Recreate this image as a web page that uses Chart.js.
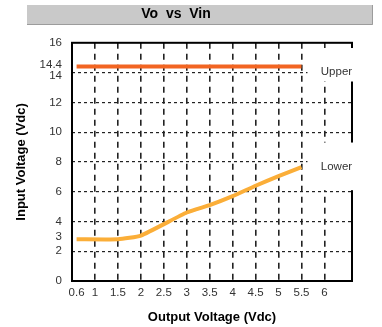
<!DOCTYPE html>
<html>
<head>
<meta charset="utf-8">
<title>Vo vs Vin</title>
<script src="https://cdn.jsdelivr.net/npm/chart.js@4"></script>
<style>
  html, body { margin: 0; padding: 0; background: #fff; }
  #wrap { width: 382px; height: 327px; }
</style>
</head>
<body>
<div id="wrap"><canvas id="vinChart"></canvas></div>
<script>
// input range limits against output voltage
const seriesNames = ['Upper', 'Lower'];
const upperVo = [0.6, 5.5];
const upperVin = [14.4, 14.4];
const lowerVo = [0.6, 1.5, 2.0, 3.0, 3.5, 4.0, 4.5, 5.0, 5.5];
const lowerVin = [2.8, 2.8, 3.05, 4.6, 5.1, 5.7, 6.4, 7.05, 7.65];

const xTicks = [0.6, 1, 1.5, 2, 2.5, 3, 3.5, 4, 4.5, 5, 5.5, 6];
const yTicks = [0, 2, 3, 4, 6, 8, 10, 12, 14, 14.4, 16];
const xGrid = [1, 1.5, 2, 2.5, 3, 3.5, 4, 4.5, 5, 5.5, 6];
const yGrid = [2, 4, 6, 8, 10, 12, 14];

const toPoints = (xs, ys) => xs.map((x, i) => ({ x: x, y: ys[i] }));

const narrowBold = { family: '"Liberation Sans Narrow", "Liberation Sans", Arial, sans-serif', size: 13, weight: 'bold' };
const tickFont = { family: '"Liberation Sans", Arial, sans-serif', size: 11.5 };
const tickFontCss = '11.5px "Liberation Sans", Arial, sans-serif';

// grey header bar behind the title
const titleBar = {
  id: 'titleBar',
  beforeDraw(chart) {
    const c = chart.ctx;
    c.save();
    c.fillStyle = '#c9c9c9';
    c.fillRect(27, 5, 346, 20);
    c.strokeStyle = '#9c9c9c';
    c.lineWidth = 1;
    c.beginPath();
    c.moveTo(372.5, 5); c.lineTo(372.5, 24.5); c.lineTo(27, 24.5);
    c.stroke();
    c.restore();
  }
};

// plot frame plus the series names on the right
const frameAndNames = {
  id: 'frameAndNames',
  afterDatasetsDraw(chart) {
    const c = chart.ctx;
    const a = chart.chartArea;
    const xs = chart.scales.x, ys = chart.scales.y;
    c.save();
    c.strokeStyle = '#000';
    c.lineWidth = 2;
    c.strokeRect(a.left, a.top, a.right - a.left, a.bottom - a.top);

    const boxLeft = xs.getPixelForValue(5.63);
    const spans = [[15.65, 13.4], [9.3, 6.1]];
    const labelAt = [14.05, 7.7];
    seriesNames.forEach((name, i) => {
      const top = ys.getPixelForValue(spans[i][0]);
      const bottom = ys.getPixelForValue(spans[i][1]);
      c.fillStyle = '#fff';
      c.fillRect(boxLeft, top, a.right + 3 - boxLeft, bottom - top);
      c.fillStyle = '#333';
      c.font = tickFontCss;
      c.textBaseline = 'middle';
      c.textAlign = 'left';
      c.fillText(name, xs.getPixelForValue(5.92), ys.getPixelForValue(labelAt[i]));
    });

    // y tick labels, the crowded pair near the top pushed apart
    c.fillStyle = '#333';
    c.font = tickFontCss;
    c.textAlign = 'right';
    c.textBaseline = 'middle';
    const nudge = { 14.4: -1.5, 14: 3.5 };
    ys.ticks.forEach(t => {
      c.fillText(String(t.value), a.left - 10, ys.getPixelForValue(t.value) + (nudge[t.value] || 0));
    });
    c.restore();
  }
};

new Chart(document.getElementById('vinChart'), {
  type: 'line',
  data: {
    datasets: [
      {
        label: seriesNames[0],
        data: toPoints(upperVo, upperVin),
        borderColor: '#f26522',
        borderWidth: 4,
        pointRadius: 0,
        borderCapStyle: 'butt'
      },
      {
        label: seriesNames[1],
        data: toPoints(lowerVo, lowerVin),
        borderColor: '#fbae38',
        borderWidth: 4,
        pointRadius: 0,
        tension: 0.15,
        borderJoinStyle: 'round'
      }
    ]
  },
  options: {
    responsive: true,
    maintainAspectRatio: false,
    animation: false,
    layout: { padding: { left: 0, right: 30, top: 0, bottom: 0 } },
    plugins: {
      legend: { display: false },
      tooltip: { enabled: false },
      title: {
        display: true,
        text: 'Vo  vs  Vin',
        color: '#000',
        font: { family: '"Liberation Sans", Arial, sans-serif', size: 14, weight: 'bold' },
        padding: { top: 6, bottom: 20 }
      }
    },
    scales: {
      x: {
        type: 'linear',
        min: 0.5,
        max: 6.6,
        afterBuildTicks: s => { s.ticks = xTicks.map(v => ({ value: v })); },
        afterFit: s => { s.height = 46; },
        border: { display: false, dash: [6, 5] },
        grid: {
          drawTicks: false,
          color: ctx => (ctx.tick && xGrid.includes(ctx.tick.value)) ? '#222' : 'rgba(0,0,0,0)',
          lineWidth: 1.6
        },
        ticks: {
          padding: 5,
          color: '#333',
          font: tickFont,
          autoSkip: false,
          maxRotation: 0,
          callback: v => String(v)
        },
        title: {
          display: true,
          text: 'Output Voltage (Vdc)',
          color: '#000',
          font: narrowBold,
          padding: { top: 2, bottom: 2 }
        }
      },
      y: {
        type: 'linear',
        min: 0,
        max: 16,
        afterBuildTicks: s => { s.ticks = yTicks.map(v => ({ value: v })); },
        afterFit: s => { s.width = 72; },
        border: { display: false, dash: [3, 3] },
        grid: {
          drawTicks: false,
          color: ctx => (ctx.tick && yGrid.includes(ctx.tick.value)) ? '#222' : 'rgba(0,0,0,0)',
          lineWidth: 1.2
        },
        ticks: {
          padding: 10,
          color: 'rgba(0,0,0,0)',
          font: tickFont,
          autoSkip: false,
          callback: v => String(v)
        },
        title: {
          display: true,
          text: 'Input Voltage (Vdc)',
          color: '#000',
          font: narrowBold,
          padding: { top: 14, bottom: 14 }
        }
      }
    }
  },
  plugins: [titleBar, frameAndNames]
});
</script>
</body>
</html>
